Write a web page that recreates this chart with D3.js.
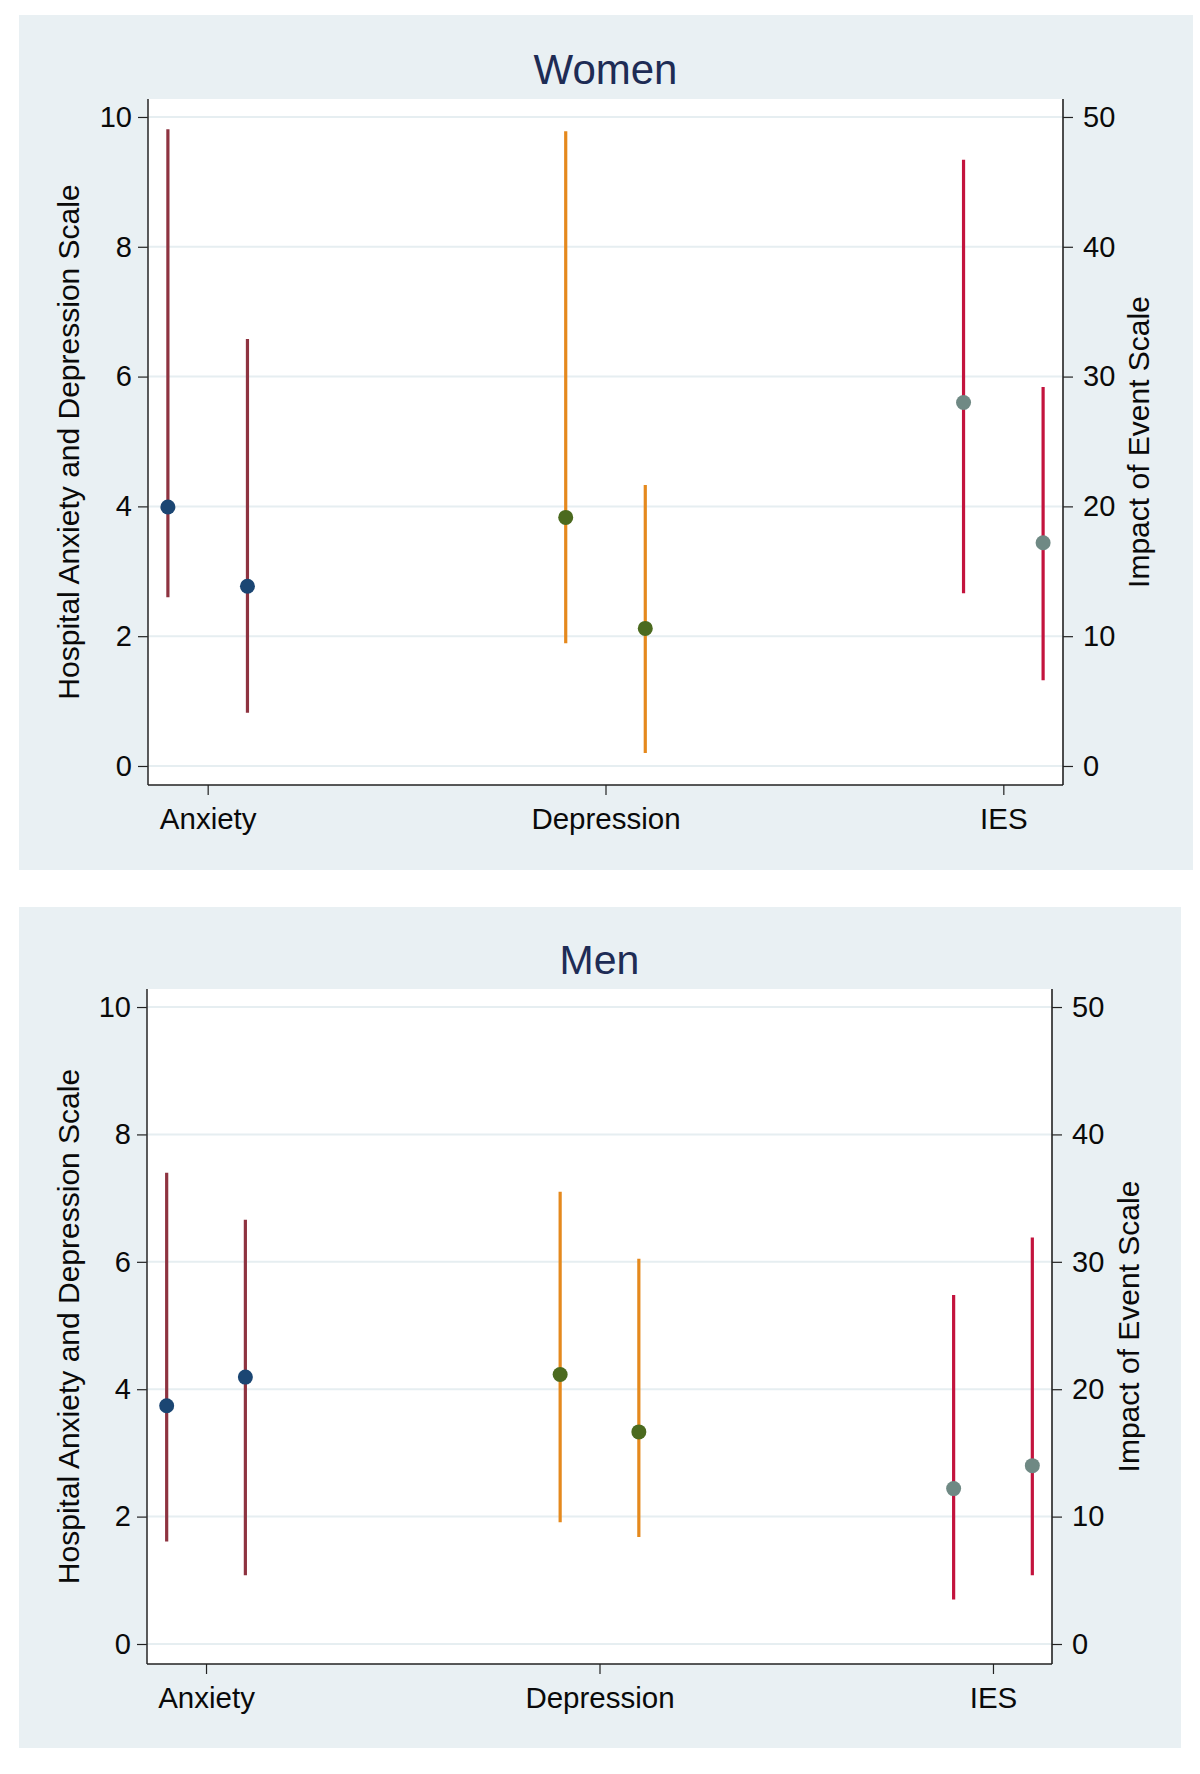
<!DOCTYPE html>
<html>
<head>
<meta charset="utf-8">
<script src="https://cdn.jsdelivr.net/npm/d3@7"></script>
<style>
  html, body { margin: 0; padding: 0; background: #ffffff; }
  svg { display: block; font-family: "Liberation Sans", Arial, sans-serif; }
</style>
</head>
<body>
<svg id="chart" width="1200" height="1774"></svg>
<script>
// ---------- data ----------
const categories = ["Anxiety", "Depression", "IES"];
const panelTitles = ["Women", "Men"];
const leftTicks = [0, 2, 4, 6, 8, 10];
const rightTicks = [0, 10, 20, 30, 40, 50];
const leftAxisTitle = "Hospital Anxiety and Depression Scale";
const rightAxisTitle = "Impact of Event Scale";

// two estimates per category (Anxiety & Depression on left axis, IES on right axis)
const womenMean = [[3.99, 2.77], [3.83, 2.12], [28.0, 17.2]];
const womenLow  = [[2.60, 0.82], [1.89, 0.20], [13.3, 6.6]];
const womenHigh = [[9.81, 6.58], [9.78, 4.33], [46.7, 29.2]];

const menMean = [[3.74, 4.19], [4.23, 3.33], [12.2, 14.0]];
const menLow  = [[1.61, 1.08], [1.91, 1.68], [3.5, 5.4]];
const menHigh = [[7.40, 6.66], [7.10, 6.05], [27.4, 31.9]];

// ---------- styles ----------
const lineColors = ["#8e3340", "#e5891d", "#c3133d"];
const markerColors = ["#1b4673", "#4b6a1f", "#6f8984"];

const layouts = [
  { bg: [19, 15, 1174, 855], l: 148, t: 99, r: 1063, b: 785, yDom: [-0.293, 10.277],
    titleSize: 42, ltx: 68, rtx: 1138 },
  { bg: [19, 907, 1162, 841], l: 147, t: 989, r: 1052, b: 1664, yDom: [-0.314, 10.283],
    titleSize: 41, ltx: 68, rtx: 1128 }
];
const panelData = [
  { mean: womenMean, low: womenLow, high: womenHigh },
  { mean: menMean, low: menLow, high: menHigh }
];

const svg = d3.select("#chart");
svg.append("rect").attr("width", 1200).attr("height", 1774).attr("fill", "#ffffff");

const tickFont = 29;

layouts.forEach((L, pi) => {
  const D = panelData[pi];
  const g = svg.append("g");
  g.append("rect").attr("x", L.bg[0]).attr("y", L.bg[1]).attr("width", L.bg[2]).attr("height", L.bg[3])
    .attr("fill", "#e9f0f3");
  g.append("rect").attr("x", L.l).attr("y", L.t).attr("width", L.r - L.l).attr("height", L.b - L.t)
    .attr("fill", "#ffffff");

  const x = d3.scaleLinear().domain([0.85, 3.15]).range([L.l, L.r]);
  const yL = d3.scaleLinear().domain(L.yDom).range([L.b, L.t]);
  const yR = d3.scaleLinear().domain(L.yDom.map(v => v * 5)).range([L.b, L.t]);

  // gridlines
  g.append("g").selectAll("line").data(leftTicks).join("line")
    .attr("x1", L.l).attr("x2", L.r)
    .attr("y1", d => yL(d)).attr("y2", d => yL(d))
    .attr("stroke", "#e6eef1").attr("stroke-width", 2);

  // left axis
  const la = g.append("g").attr("transform", `translate(${L.l},0)`)
    .call(d3.axisLeft(yL).tickValues(leftTicks).tickSize(10).tickPadding(6).tickSizeOuter(0));
  la.select(".domain").remove();
  la.selectAll("text").attr("font-size", tickFont).attr("fill", "#0a0a0a").attr("font-family", "Liberation Sans, Arial, sans-serif");
  la.selectAll("line").attr("stroke", "#222").attr("stroke-width", 1.2);
  g.append("line").attr("x1", L.l).attr("x2", L.l).attr("y1", L.t).attr("y2", L.b)
    .attr("stroke", "#333").attr("stroke-width", 1.6);

  // right axis
  const ra = g.append("g").attr("transform", `translate(${L.r},0)`)
    .call(d3.axisRight(yR).tickValues(rightTicks).tickSize(10).tickPadding(10).tickSizeOuter(0));
  ra.select(".domain").remove();
  ra.selectAll("text").attr("font-size", tickFont).attr("fill", "#0a0a0a").attr("font-family", "Liberation Sans, Arial, sans-serif");
  ra.selectAll("line").attr("stroke", "#222").attr("stroke-width", 1.2);
  g.append("line").attr("x1", L.r).attr("x2", L.r).attr("y1", L.t).attr("y2", L.b)
    .attr("stroke", "#222").attr("stroke-width", 1.6);

  // bottom axis
  const ba = g.append("g").attr("transform", `translate(0,${L.b})`)
    .call(d3.axisBottom(x).tickValues([1, 2, 3]).tickFormat(d => categories[d - 1])
      .tickSize(10).tickPadding(13).tickSizeOuter(0));
  ba.select(".domain").remove();
  ba.selectAll("text").attr("font-size", 29.5).attr("fill", "#0a0a0a").attr("font-family", "Liberation Sans, Arial, sans-serif");
  ba.selectAll("line").attr("stroke", "#222").attr("stroke-width", 1.2);
  g.append("line").attr("x1", L.l).attr("x2", L.r).attr("y1", L.b).attr("y2", L.b)
    .attr("stroke", "#222").attr("stroke-width", 1.6);

  // title
  g.append("text").attr("x", (L.l + L.r) / 2).attr("y", L.t - 15)
    .attr("text-anchor", "middle").attr("font-size", L.titleSize).attr("fill", "#1e2c55")
    .text(panelTitles[pi]);

  // axis titles
  const cy = (L.t + L.b) / 2;
  g.append("text").attr("transform", `translate(${L.ltx},${cy}) rotate(-90)`)
    .attr("text-anchor", "middle").attr("dominant-baseline", "central")
    .attr("font-size", 30).attr("fill", "#0a0a0a").text(leftAxisTitle);
  g.append("text").attr("transform", `translate(${L.rtx},${cy}) rotate(-90)`)
    .attr("text-anchor", "middle").attr("dominant-baseline", "central")
    .attr("font-size", 30).attr("fill", "#0a0a0a").text(rightAxisTitle);

  // points & CIs
  const rows = [];
  categories.forEach((c, ci) => {
    [0, 1].forEach(k => {
      rows.push({ ci, k, m: D.mean[ci][k], lo: D.low[ci][k], hi: D.high[ci][k],
                  pos: ci + 1 + (k === 0 ? -0.1 : 0.1) });
    });
  });
  const yFor = d => (d.ci === 2 ? yR : yL);
  g.append("g").selectAll("line").data(rows).join("line")
    .attr("x1", d => x(d.pos)).attr("x2", d => x(d.pos))
    .attr("y1", d => yFor(d)(d.lo)).attr("y2", d => yFor(d)(d.hi))
    .attr("stroke", d => lineColors[d.ci]).attr("stroke-width", 3.2);
  g.append("g").selectAll("circle").data(rows).join("circle")
    .attr("cx", d => x(d.pos)).attr("cy", d => yFor(d)(d.m)).attr("r", 7.5)
    .attr("fill", d => markerColors[d.ci]);
});
</script>
</body>
</html>
